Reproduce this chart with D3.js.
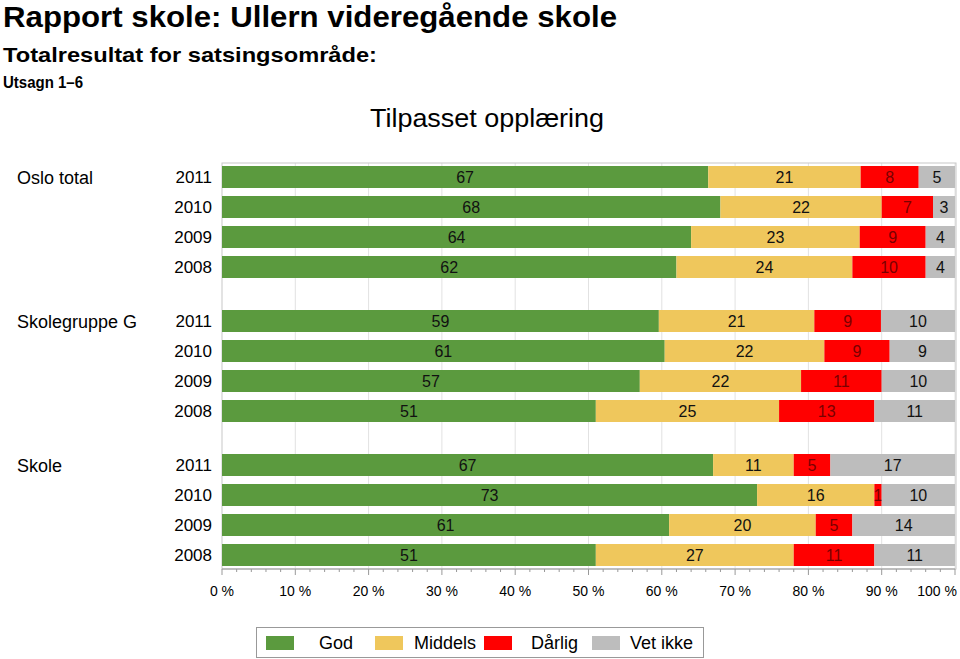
<!DOCTYPE html>
<html><head><meta charset="utf-8">
<script src="https://cdn.jsdelivr.net/npm/d3@7"></script>
<style>body{margin:0;background:#fff}svg{display:block;font-family:"Liberation Sans",Arial,Helvetica,sans-serif}</style>
</head><body><svg id="c" width="960" height="659"></svg>
<script>
const groups = ["Oslo total", "Skolegruppe G", "Skole"];
const years = ["2011", "2010", "2009", "2008"];
const series = ["God", "Middels", "Dårlig", "Vet ikke"];
const colors = ["#5b9a3e", "#efc75c", "#ff0000", "#bdbdbd"];
const god      = [[67,68,64,62],[59,61,57,51],[67,73,61,51]];
const middels  = [[21,22,23,24],[21,22,22,25],[11,16,20,27]];
const darlig   = [[8,7,9,10],[9,9,11,13],[5,1,5,11]];
const vetikke  = [[5,3,4,4],[10,9,10,11],[17,10,14,11]];
const tickVals = [0,10,20,30,40,50,60,70,80,90,100];

const svg = d3.select("#c");
const x = d3.scaleLinear().domain([0,100]).range([222,955]);
const slot = d3.scaleLinear().domain([0,1]).range([177,207]);
const barH = 22;
const vals = [god, middels, darlig, vetikke];

function txt(t, xx, yy, size, weight, anchor, len){
  const e = svg.append("text").attr("x",xx).attr("y",yy).attr("font-size",size)
    .attr("font-weight",weight||"normal").attr("text-anchor",anchor||"start").attr("fill","#000").text(t);
  if(len) e.attr("textLength",len).attr("lengthAdjust","spacingAndGlyphs");
  return e;
}
txt("Rapport skole:  Ullern videregående skole", 3, 27, 30, "bold", "start", 614);
txt("Totalresultat for satsingsområde:", 3, 62, 21, "bold", "start", 374);
txt("Utsagn 1–6", 3, 88, 16, "bold", "start", 80);
txt("Tilpasset opplæring", 370, 127, 26, "normal", "start", 234);

const plotTop = 163, plotBottom = 569;
svg.append("g").selectAll("line").data(tickVals.slice(1)).join("line")
  .attr("x1",d=>x(d)).attr("x2",d=>x(d)).attr("y1",plotTop).attr("y2",plotBottom)
  .attr("stroke","#e2e2e2").attr("stroke-width",1);
svg.append("rect").attr("x",x(0)).attr("y",plotTop).attr("width",x(100)-x(0)+1).attr("height",plotBottom-plotTop)
  .attr("fill","none").attr("stroke","#c8c8c8");

groups.forEach((g,gi)=>{
  const gy = gi*4.8;
  txt(g, 17, slot(gy)+7, 18);
  years.forEach((yr,ri)=>{
    const cy = slot(gy+ri);
    txt(yr, 212, cy+6, 17, "normal", "end");
    const total = d3.sum(vals, arr=>arr[gi][ri]);
    const share = d3.scaleLinear().domain([0,total]).range([0,100]);
    let cum = 0;
    vals.forEach((arr,si)=>{
      const v = arr[gi][ri];
      const x0 = x(share(cum)), x1 = x(share(cum+v));
      svg.append("rect").attr("x",x0).attr("y",cy-barH/2).attr("width",x1-x0).attr("height",barH)
        .attr("fill",colors[si]);
      svg.append("text").attr("x",(x0+x1)/2).attr("y",cy+6).attr("text-anchor","middle")
        .attr("font-size",16).attr("fill", si===2 ? "#7a0000" : "#111").text(v);
      cum += v;
    });
  });
});

const ax = svg.append("g").attr("transform",`translate(0,${plotBottom})`);
ax.append("line").attr("x1",x(0)).attr("x2",x(100)).attr("stroke","#999");
ax.selectAll(".minor").data(d3.range(0,101,2)).join("line")
  .attr("x1",d=>x(d)).attr("x2",d=>x(d)).attr("y1",0).attr("y2",d=>d%10===0?6:3).attr("stroke","#999");
ax.selectAll(".tl").data(tickVals).join("text")
  .attr("x",d=>d===100 ? 957 : x(d)).attr("y",27).attr("text-anchor",d=>d===100?"end":"middle")
  .attr("font-size",14).text(d=>d+" %");

const lg = svg.append("g");
lg.append("rect").attr("x",256.5).attr("y",627.5).attr("width",447).attr("height",30).attr("fill","#fff").attr("stroke","#999");
const lx = [266, 375, 484, 592], tx = [319, 414, 531, 630];
series.forEach((s,i)=>{
  lg.append("rect").attr("x",lx[i]).attr("y",636).attr("width",28).attr("height",14).attr("fill",colors[i]);
  txt(s, tx[i], 649, 18);
});
</script></body></html>
